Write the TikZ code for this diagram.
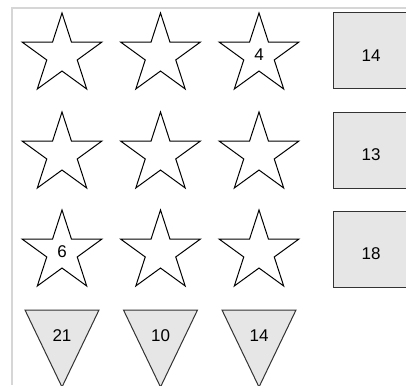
\documentclass[tikz,border=0pt]{standalone}
\usepackage{fontspec}
\setmainfont{Liberation Sans}
\usetikzlibrary{shapes.geometric}
\definecolor{shapefill}{HTML}{E6E6E6}
\definecolor{framegray}{HTML}{D6D6D6}
\definecolor{edgegray}{HTML}{333333}
\tikzset{
  lbl/.style={font=\fontsize{17}{20}\selectfont, inner sep=0pt},
  starshape/.style={star, star points=5, star point ratio=2.618, minimum size=84pt,
    inner sep=0pt, draw=black, line width=1pt, fill=white, font=\fontsize{17}{20}\selectfont},
  rectbox/.style={rectangle, draw=edgegray, fill=shapefill, line width=1pt,
    minimum width=76pt, minimum height=76pt, inner sep=0pt,
    text height=20.2pt, text depth=0pt, font=\fontsize{17}{20}\selectfont},
  trifill/.style={draw=edgegray, fill=shapefill, line width=1pt, line join=miter},
  frameline/.style={draw=framegray, line width=1.5pt}
}
\begin{document}
\begin{tikzpicture}[x=1pt,y=-1pt]
\clip (0,0) rectangle (406,385);
\fill[white] (0,0) rectangle (406,385);
\draw[frameline] (406,8) -- (12,8) -- (12,385);
% stars
\node[starshape] (s11) at (62,55) {};
\node[starshape] (s12) at (160.5,55) {};
\node[starshape] (s13) at (259,55) {4};
\node[starshape] (s21) at (62,154) {};
\node[starshape] (s22) at (160.5,154) {};
\node[starshape] (s23) at (259,154) {};
\node[starshape] (s31) at (62,252) {6};
\node[starshape] (s32) at (160.5,252) {};
\node[starshape] (s33) at (259,252) {};
% squares
\node[rectbox] (r1) at (371,51) {14};
\node[rectbox] (r2) at (371,150.5) {13};
\node[rectbox] (r3) at (371,249) {18};
% triangles
\draw[trifill] (25,310) -- (99,310) -- (62,387) -- cycle;
\node[lbl] (t1) at (62,336) {21};
\draw[trifill] (123.5,310) -- (197.5,310) -- (160.5,387) -- cycle;
\node[lbl] (t2) at (160.5,336) {10};
\draw[trifill] (222,310) -- (296,310) -- (259,387) -- cycle;
\node[lbl] (t3) at (259,336) {14};
\end{tikzpicture}
\end{document}
